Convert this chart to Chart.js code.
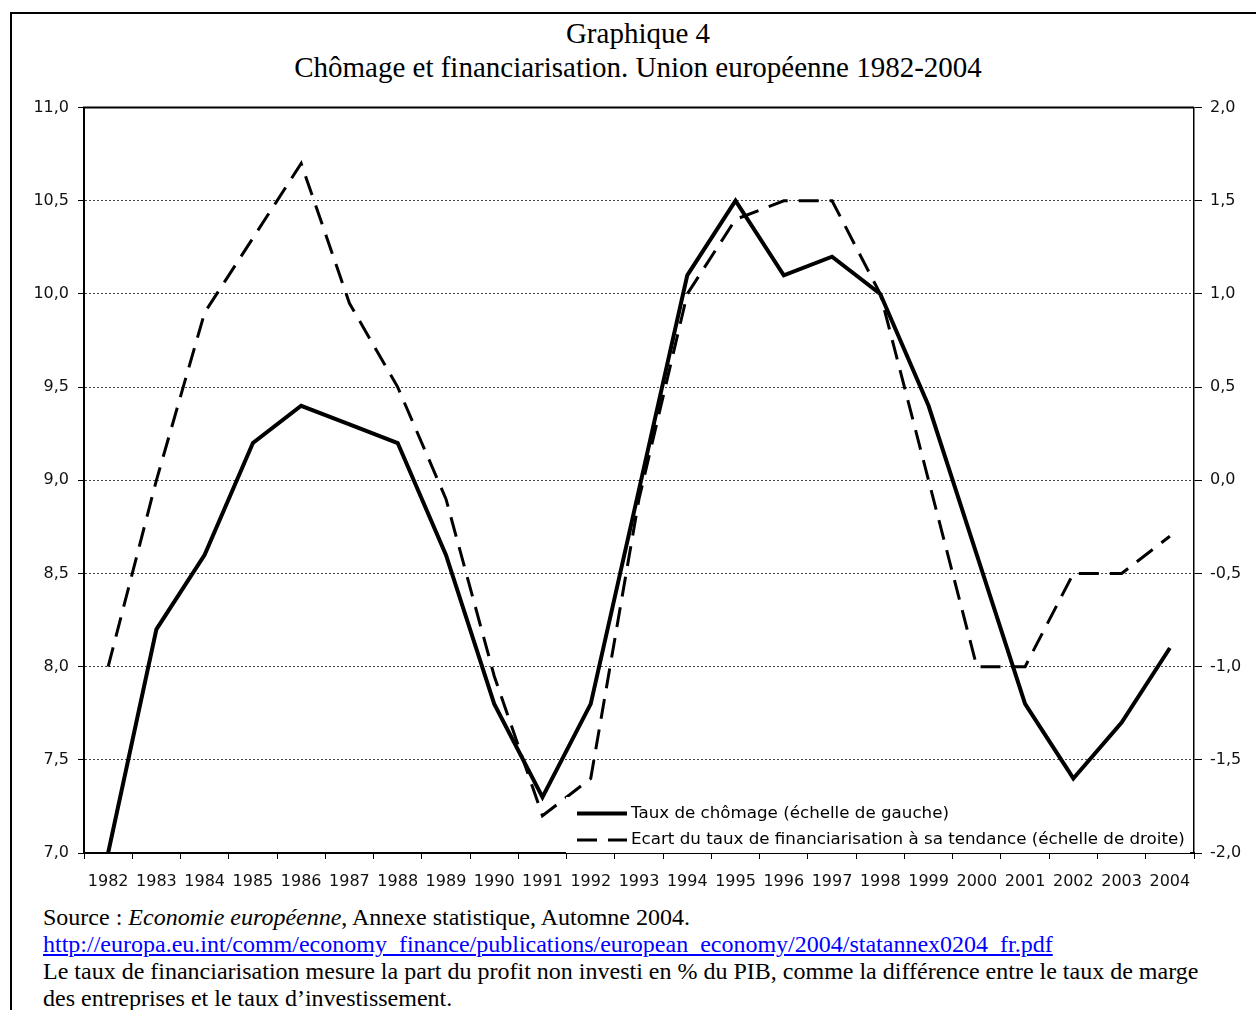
<!DOCTYPE html>
<html>
<head>
<meta charset="utf-8">
<script src="https://cdn.jsdelivr.net/npm/chart.js@4.4.1/dist/chart.umd.min.js"></script>
<style>
  html, body { margin: 0; padding: 0; background: #fff; overflow: hidden; }
  body { width: 1256px; height: 1010px; position: relative; }
  #frame {
    position: absolute; left: 10px; top: 12px; width: 1250px; height: 1010px;
    border-left: 2px solid #000; border-top: 2px solid #000;
  }
  #title {
    position: absolute; left: 20px; top: 16px; width: 1236px;
    text-align: center; font-family: "Liberation Serif", serif;
    font-size: 29px; line-height: 34px; color: #000;
  }
  #chart { position: absolute; left: 0; top: 89px; }
  #notes {
    position: absolute; left: 43px; top: 904px; white-space: nowrap;
    font-family: "Liberation Serif", serif; font-size: 24px; line-height: 27px; color: #000;
  }
  #notes a { color: #0000ff; text-decoration: underline; }
</style>
</head>
<body>
<div id="frame"></div>
<div id="title">Graphique 4<br>Chômage et financiarisation. Union européenne 1982-2004</div>
<canvas id="chart" width="1256" height="811"></canvas>
<div id="notes">
  Source : <i>Economie européenne</i>, Annexe statistique, Automne 2004.<br>
  <a href="#">http://europa.eu.int/comm/economy_finance/publications/european_economy/2004/statannex0204_fr.pdf</a><br>
  Le taux de financiarisation mesure la part du profit non investi en % du PIB, comme la différence entre le taux de marge<br>
  des entreprises et le taux d’investissement.
</div>

<script>
// Données
const years = ["1982", "1983", "1984", "1985", "1986", "1987", "1988", "1989", "1990", "1991", "1992",
  "1993", "1994", "1995", "1996", "1997", "1998", "1999", "2000", "2001", "2002", "2003", "2004"];

// taux de chômage (échelle de gauche)
const unemployment = [7.0, 8.2, 8.6, 9.2, 9.4, 9.3, 9.2, 8.6, 7.8, 7.3, 7.8,
  8.95, 10.1, 10.5, 10.1, 10.2, 10.0, 9.4, 8.6, 7.8, 7.4, 7.7, 8.1];

// écart du taux de financiarisation à sa tendance (échelle de droite)
const finGap = [-1.0, 0.0, 0.9, 1.3, 1.7, 0.95, 0.5, -0.1, -1.05, -1.8, -1.6,
  -0.1, 1.0, 1.4, 1.5, 1.5, 1.0, 0.0, -1.0, -1.0, -0.5, -0.5, -0.3];

const seriesLabels = [
  "Taux de chômage (échelle de gauche)",
  "Ecart du taux de financiarisation à sa tendance (échelle de droite)",
];

const fmt = (v) => Number(v).toFixed(1).replace(".", ",");
const tickFont = { family: "DejaVu Sans", size: 16 };

// cadre du haut de la zone de tracé
const topBorder = {
  id: "topBorder",
  beforeDatasetsDraw(chart) {
    const { ctx, chartArea: a } = chart;
    ctx.save();
    ctx.strokeStyle = "#000";
    ctx.lineWidth = 2;
    ctx.beginPath();
    ctx.moveTo(a.left - 1, a.top);
    ctx.lineTo(a.right, a.top);
    ctx.stroke();
    ctx.restore();
  },
};

// légende dans la zone de tracé, en bas à droite
const insideLegend = {
  id: "insideLegend",
  afterDatasetsDraw(chart) {
    const { ctx, chartArea: a } = chart;
    const x0 = 577, x1 = 627, tx = 631;
    const rows = [a.bottom - 39.5, a.bottom - 13];
    ctx.save();
    ctx.fillStyle = "#fff";
    ctx.fillRect(566, a.bottom - 56, 624, 56);
    chart.data.datasets.forEach((ds, i) => {
      ctx.strokeStyle = "#000";
      ctx.lineWidth = ds.borderWidth;
      ctx.setLineDash(ds.borderDash || []);
      ctx.beginPath();
      ctx.moveTo(x0, rows[i]);
      ctx.lineTo(x1, rows[i]);
      ctx.stroke();
      ctx.setLineDash([]);
      ctx.fillStyle = "#000";
      ctx.font = "16.7px 'DejaVu Sans'";
      ctx.textBaseline = "middle";
      ctx.fillText(ds.label, tx, rows[i]);
    });
    ctx.restore();
  },
};

new Chart(document.getElementById("chart"), {
  type: "line",
  plugins: [topBorder, insideLegend],
  data: {
    labels: years,
    datasets: [
      {
        label: seriesLabels[0],
        data: unemployment,
        yAxisID: "y",
        borderColor: "#000",
        borderWidth: 4,
        pointRadius: 0,
        tension: 0,
        fill: false,
      },
      {
        label: seriesLabels[1],
        data: finGap,
        yAxisID: "y1",
        borderColor: "#000",
        borderWidth: 3,
        borderDash: [20, 11],
        pointRadius: 0,
        tension: 0,
        fill: false,
      },
    ],
  },
  options: {
    responsive: false,
    animation: false,
    devicePixelRatio: 1,
    layout: { padding: { top: 12, left: 0, right: 0, bottom: 0 } },
    plugins: {
      legend: { display: false },
      tooltip: { enabled: false },
    },
    scales: {
      x: {
        type: "category",
        offset: true,
        afterFit: (s) => { s.height = 47; },
        grid: { offset: true, drawOnChartArea: false, tickLength: 6, color: "#000" },
        border: { color: "#000", width: 2 },
        ticks: { color: "#111", font: tickFont, padding: 13, maxRotation: 0, autoSkip: false },
      },
      y: {
        position: "left",
        min: 7,
        max: 11,
        afterFit: (s) => { s.width = 84; },
        grid: { color: "#444", lineWidth: 1, tickLength: 6, tickColor: "#000", tickBorderDash: [] },
        border: { color: "#000", width: 2, dash: [2, 2] },
        ticks: { stepSize: 0.5, color: "#111", font: tickFont, padding: 9, callback: fmt },
      },
      y1: {
        position: "right",
        min: -2,
        max: 2,
        afterFit: (s) => { s.width = 62; },
        grid: { drawOnChartArea: false, tickLength: 8, tickColor: "#000" },
        border: { color: "#000", width: 1.5 },
        ticks: { stepSize: 0.5, color: "#111", font: tickFont, padding: 8, callback: fmt },
      },
    },
  },
});
</script>
</body>
</html>
